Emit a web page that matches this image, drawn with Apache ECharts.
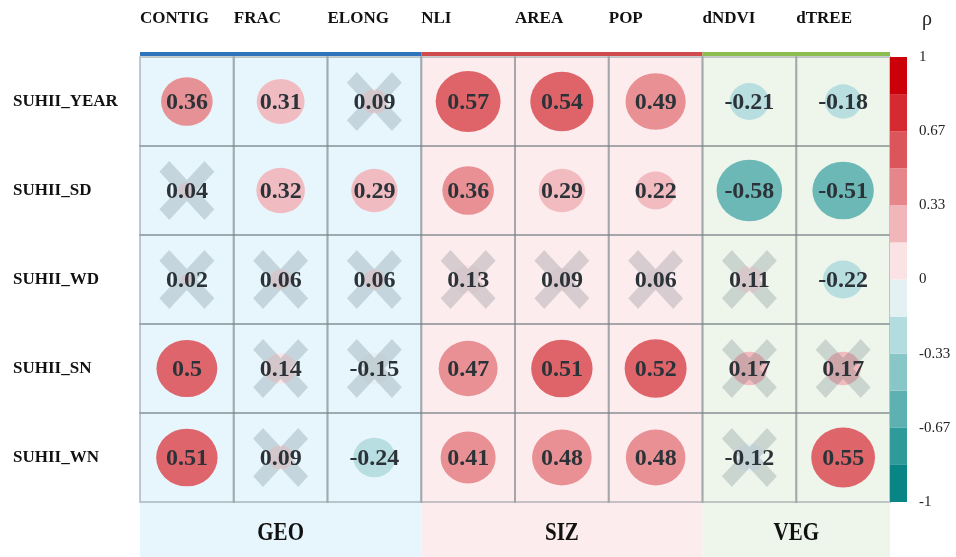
<!DOCTYPE html>
<html>
<head>
<meta charset="utf-8">
<script src="https://cdn.jsdelivr.net/npm/echarts@6/dist/echarts.min.js"></script>
<style>
  html, body { margin: 0; padding: 0; background: #ffffff; }
  #chart { width: 956px; height: 557px; }
</style>
</head>
<body>
<div id="chart"></div>
<script>
// Predictors (columns) and SUHII indicators (rows)
const cols = ['CONTIG', 'FRAC', 'ELONG', 'NLI', 'AREA', 'POP', 'dNDVI', 'dTREE'];
const rows = ['SUHII_YEAR', 'SUHII_SD', 'SUHII_WD', 'SUHII_SN', 'SUHII_WN'];

// Spearman rho per row
const rhoYear = [0.36, 0.31, 0.09, 0.57, 0.54, 0.49, -0.21, -0.18];
const rhoSD   = [0.04, 0.32, 0.29, 0.36, 0.29, 0.22, -0.58, -0.51];
const rhoWD   = [0.02, 0.06, 0.06, 0.13, 0.09, 0.06, 0.11, -0.22];
const rhoSN   = [0.5, 0.14, -0.15, 0.47, 0.51, 0.52, 0.17, 0.17];
const rhoWN   = [0.51, 0.09, -0.24, 0.41, 0.48, 0.48, -0.12, 0.55];

// 1 = significant, 0 = crossed out
const sigYear = [1, 1, 0, 1, 1, 1, 1, 1];
const sigSD   = [0, 1, 1, 1, 1, 1, 1, 1];
const sigWD   = [0, 0, 0, 0, 0, 0, 0, 1];
const sigSN   = [1, 0, 0, 1, 1, 1, 0, 0];
const sigWN   = [1, 0, 1, 1, 1, 1, 0, 1];

// Predictor groups
const groupNames = ['GEO', 'SIZ', 'VEG'];
const groupFirst = [0, 3, 6];
const groupLast  = [2, 5, 7];
const groupFill  = ['#e7f6fd', '#fdecee', '#eef6ec'];
const groupLine  = ['#2f73bc', '#cf4b4d', '#8cbd50'];

// Diverging colour bins, from -1 up to 1
const binColors = ['#0a8585', '#2f9a9a', '#5db1b1', '#88c6c7', '#b3dcdf', '#e3f1f3',
                   '#fbe3e5', '#f1b6ba', '#e6868a', '#dc555b', '#d42a30', '#cc0009'];

const rhoRows = [rhoYear, rhoSD, rhoWD, rhoSN, rhoWN];
const sigRows = [sigYear, sigSD, sigWD, sigSN, sigWN];

const binWidth = 2 / binColors.length;
function colorOf(v) {
  const i = Math.min(binColors.length - 1, Math.max(0, Math.floor((v + 1) / binWidth)));
  return binColors[i];
}

const SERIF = '"Liberation Serif", "Times New Roman", serif';

const cellData = [];
rhoRows.forEach((r, ri) => r.forEach((v, ci) => cellData.push([ci, ri, v, sigRows[ri][ci]])));

const groupData = groupNames.map((g, i) => [groupFirst[i], groupLast[i], i]);

const legendData = binColors.map((c, i) => [0, -1 + i * binWidth, -1 + (i + 1) * binWidth, i]);

// X-shaped marker outline, scaled per cell
function crossPoints(cx, cy, halfW, thick, sy) {
  const b = (thick / 2) / Math.SQRT2;
  const a = halfW - b;
  const p = [[-a - b, -a + b], [-a + b, -a - b], [0, -2 * b], [a - b, -a - b], [a + b, -a + b], [2 * b, 0],
             [a + b, a - b], [a - b, a + b], [0, 2 * b], [-a + b, a + b], [-a - b, a - b], [-2 * b, 0]];
  return p.map(q => [cx + q[0], cy + q[1] * sy]);
}

const chart = echarts.init(document.getElementById('chart'), null, { renderer: 'canvas' });

chart.setOption({
  animation: false,
  backgroundColor: '#ffffff',
  grid: [
    { left: 140, right: 66, top: 57, bottom: 55 },
    { left: 890, width: 17, top: 57, bottom: 55 }
  ],
  xAxis: [
    { type: 'category', gridIndex: 0, data: cols, axisLine: { show: false }, axisTick: { show: false },
      axisLabel: { show: false }, splitLine: { show: false } },
    { type: 'category', gridIndex: 0, data: cols.concat(['']), boundaryGap: false, position: 'top',
      axisLine: { show: false }, axisTick: { show: false }, splitLine: { show: false },
      axisLabel: { interval: 0, align: 'left', verticalAlign: 'middle', margin: 38,
        fontFamily: SERIF, fontWeight: 'bold', fontSize: 17, color: '#111' } },
    { type: 'category', gridIndex: 1, data: [''], show: false }
  ],
  yAxis: [
    { type: 'category', gridIndex: 0, data: rows, inverse: true,
      axisLine: { show: false }, axisTick: { show: false }, splitLine: { show: false },
      axisLabel: { align: 'left', margin: 127, fontFamily: SERIF, fontWeight: 'bold', fontSize: 17, color: '#111' } },
    { type: 'value', gridIndex: 1, min: -1, max: 1, interval: 1 / 3, position: 'right',
      axisLine: { show: false }, axisTick: { show: false }, splitLine: { show: false },
      axisLabel: { margin: 12, fontFamily: SERIF, fontSize: 15, color: '#222',
        formatter: v => String(Math.round(v * 100) / 100) } }
  ],
  graphic: [
    { type: 'text', left: 922, top: 10, style: { text: 'ρ', font: '20px ' + SERIF, fill: '#222' } }
  ],
  series: [
    {
      // group backgrounds, header rules and group names
      type: 'custom', xAxisIndex: 0, yAxisIndex: 0, clip: false, z: 1,
      data: groupData,
      renderItem(params, api) {
        const i = api.value(2);
        const cs = params.coordSys;
        const cw = api.size([1, 0])[0];
        const x0 = api.coord([api.value(0), 0])[0] - cw / 2;
        const x1 = api.coord([api.value(1), 0])[0] + cw / 2;
        const top = cs.y;
        const gridBottom = cs.y + cs.height;
        const bottom = gridBottom + 55;
        return {
          type: 'group',
          children: [
            { type: 'rect', shape: { x: x0, y: top, width: x1 - x0, height: bottom - top },
              style: { fill: groupFill[i] } },
            { type: 'rect', shape: { x: x0, y: top - 5, width: x1 - x0, height: 4 },
              style: { fill: groupLine[i] } },
            { type: 'text', x: (x0 + x1) / 2, y: gridBottom + 31, scaleY: 1.2,
              style: { text: groupNames[i], align: 'center', verticalAlign: 'middle',
                font: 'bold 21px ' + SERIF, fill: '#111' } }
          ]
        };
      }
    },
    {
      // correlation cells
      type: 'custom', xAxisIndex: 0, yAxisIndex: 0, clip: false, z: 2,
      data: cellData,
      renderItem(params, api) {
        const c = api.coord([api.value(0), api.value(1)]);
        const sz = api.size([1, 1]);
        const v = api.value(2);
        const sig = api.value(3);
        const r = 43 * Math.sqrt(Math.abs(v));
        const kids = [
          { type: 'rect', shape: { x: c[0] - sz[0] / 2, y: c[1] - sz[1] / 2, width: sz[0], height: sz[1] },
            style: { fill: 'none', stroke: 'rgba(120,130,135,0.42)', lineWidth: 2 } },
          { type: 'circle', x: c[0], y: c[1], scaleY: 0.94, shape: { cx: 0, cy: 0, r: r },
            style: { fill: colorOf(v), opacity: 0.9 } }
        ];
        if (!sig) {
          kids.push({ type: 'polygon', shape: { points: crossPoints(c[0], c[1], 27.5, 14, 1.07) },
            style: { fill: 'rgba(45,65,75,0.18)' } });
        }
        kids.push({ type: 'text', x: c[0], y: c[1] + 1,
          style: { text: String(v), align: 'center', verticalAlign: 'middle',
            font: 'bold 24px ' + SERIF, fill: '#2b3338' } });
        return { type: 'group', children: kids };
      }
    },
    {
      // colour bar
      type: 'custom', xAxisIndex: 2, yAxisIndex: 1, clip: false, z: 2,
      data: legendData,
      renderItem(params, api) {
        const lo = api.coord([0, api.value(1)]);
        const hi = api.coord([0, api.value(2)]);
        const cs = params.coordSys;
        return { type: 'rect', shape: { x: cs.x, y: hi[1], width: cs.width, height: lo[1] - hi[1] },
          style: { fill: binColors[api.value(3)] } };
      }
    }
  ]
});
</script>
</body>
</html>
